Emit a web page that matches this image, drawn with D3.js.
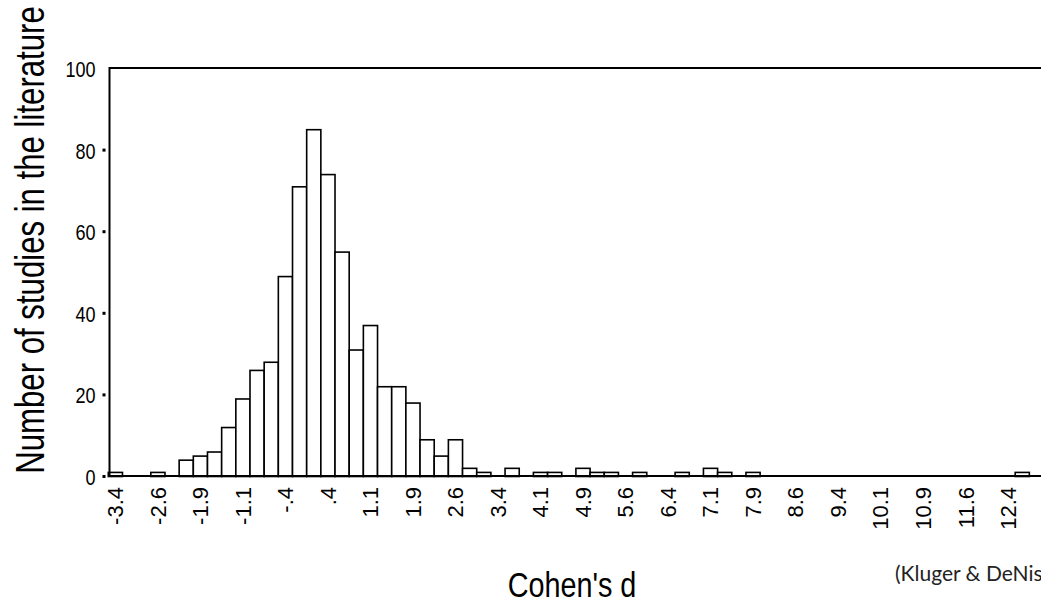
<!DOCTYPE html>
<html><head><meta charset="utf-8">
<script src="https://cdn.jsdelivr.net/npm/d3@7"></script>
<style>body{margin:0;background:#fff;overflow:hidden} svg{display:block}</style>
</head><body>
<svg id="chart" width="1041" height="605"></svg>
<script>
// Histogram of Cohen's d (bin index 0..64, bin width ~0.25)
const bins = d3.range(65);
const counts = [
  1,0,0,1,0,4,5,6,12,19,
  26,28,49,71,85,74,55,31,37,22,
  22,18,9,5,9,2,1,0,2,0,
  1,1,0,2,1,1,0,1,0,0,
  1,0,2,1,0,1,0,0,0,0,
  0,0,0,0,0,0,0,0,0,0,
  0,0,0,0,1
];
const tickBins = d3.range(0, 64, 3);
const tickLabels = ["-3.4","-2.6","-1.9","-1.1","-.4",".4","1.1","1.9","2.6","3.4","4.1",
  "4.9","5.6","6.4","7.1","7.9","8.6","9.4","10.1","10.9","11.6","12.4"];
const yTicks = [0,20,40,60,80,100];
const yTickMarks = [0,20,40,60,80];
const xTitle = "Cohen's d";
const yTitle = "Number of studies in the literature";
const source = "(Kluger & DeNisi, 1996)";

const svg = d3.select("#chart");
const pLeft = 109.5, pTop = 68, pBottom = 476, pRight = 1045;
const bw = 14.17, x0 = 108.3;
const x = d3.scaleBand().domain(bins).range([x0, x0 + bins.length * bw]).padding(0);
const y = d3.scaleLinear().domain([0,100]).range([476.5, 68.5]);
const font = "'Liberation Sans',Arial,sans-serif";
const narrowScale = 0.82;

// bars
svg.append("g").selectAll("rect")
  .data(bins.filter(i => counts[i] > 0))
  .join("rect")
  .attr("x", i => x(i))
  .attr("y", i => y(counts[i]))
  .attr("width", x.bandwidth())
  .attr("height", i => y(0) - y(counts[i]))
  .attr("fill", "#fff")
  .attr("stroke", "#000")
  .attr("stroke-width", 1.6);

// frame
svg.append("line").attr("x1", pLeft).attr("x2", pRight).attr("y1", pTop).attr("y2", pTop)
  .attr("stroke", "#000").attr("stroke-width", 2);
svg.append("line").attr("x1", pLeft).attr("x2", pLeft).attr("y1", pTop-1).attr("y2", pBottom+1)
  .attr("stroke", "#000").attr("stroke-width", 2);
svg.append("line").attr("x1", pLeft-1).attr("x2", pRight).attr("y1", pBottom).attr("y2", pBottom)
  .attr("stroke", "#000").attr("stroke-width", 2.2);

// y axis labels (condensed)
const ya = d3.axisLeft(y).tickValues(yTicks).tickSize(0).tickPadding(0).tickFormat(d3.format("d"));
const yg = svg.append("g").attr("transform", `translate(${pLeft-14},0)`).call(ya);
yg.select(".domain").remove();
yg.selectAll(".tick text").attr("font-family", font).attr("font-size", 22).attr("fill", "#000")
  .attr("dy", "0.36em").attr("x", 0)
  .attr("transform", `scale(${narrowScale},1)`);
// y tick marks (small squares detached from axis)
svg.append("g").selectAll("rect").data(yTickMarks).join("rect")
  .attr("x", pLeft - 7).attr("width", 3)
  .attr("y", d => y(d) - 1.5).attr("height", 3).attr("fill", "#000");

// x axis labels
const xa = d3.axisBottom(x).tickValues(tickBins).tickSize(0)
  .tickFormat((d, i) => tickLabels[i]);
const xg = svg.append("g").attr("transform", `translate(0,${pBottom})`).call(xa);
xg.select(".domain").remove();
xg.selectAll("text")
  .attr("font-family", font).attr("font-size", 22).attr("fill", "#000")
  .attr("transform", "rotate(-90)")
  .attr("text-anchor", "end")
  .attr("x", -11).attr("y", 0).attr("dy", "0.36em");

// titles
svg.append("text").attr("transform", `translate(572,597) scale(0.8,1)`).attr("text-anchor", "middle")
  .attr("font-family", font).attr("font-size", 36).attr("fill", "#000").text(xTitle);
svg.append("text").attr("transform", `translate(44,240) rotate(-90) scale(0.76,1)`).attr("text-anchor", "middle")
  .attr("font-family", font).attr("font-size", 41).attr("fill", "#000").text(yTitle);
svg.append("text").attr("x", 895).attr("y", 581)
  .attr("font-family", "Lato, sans-serif").attr("font-size", 21).attr("fill", "#222").text(source);
</script>
</body></html>
